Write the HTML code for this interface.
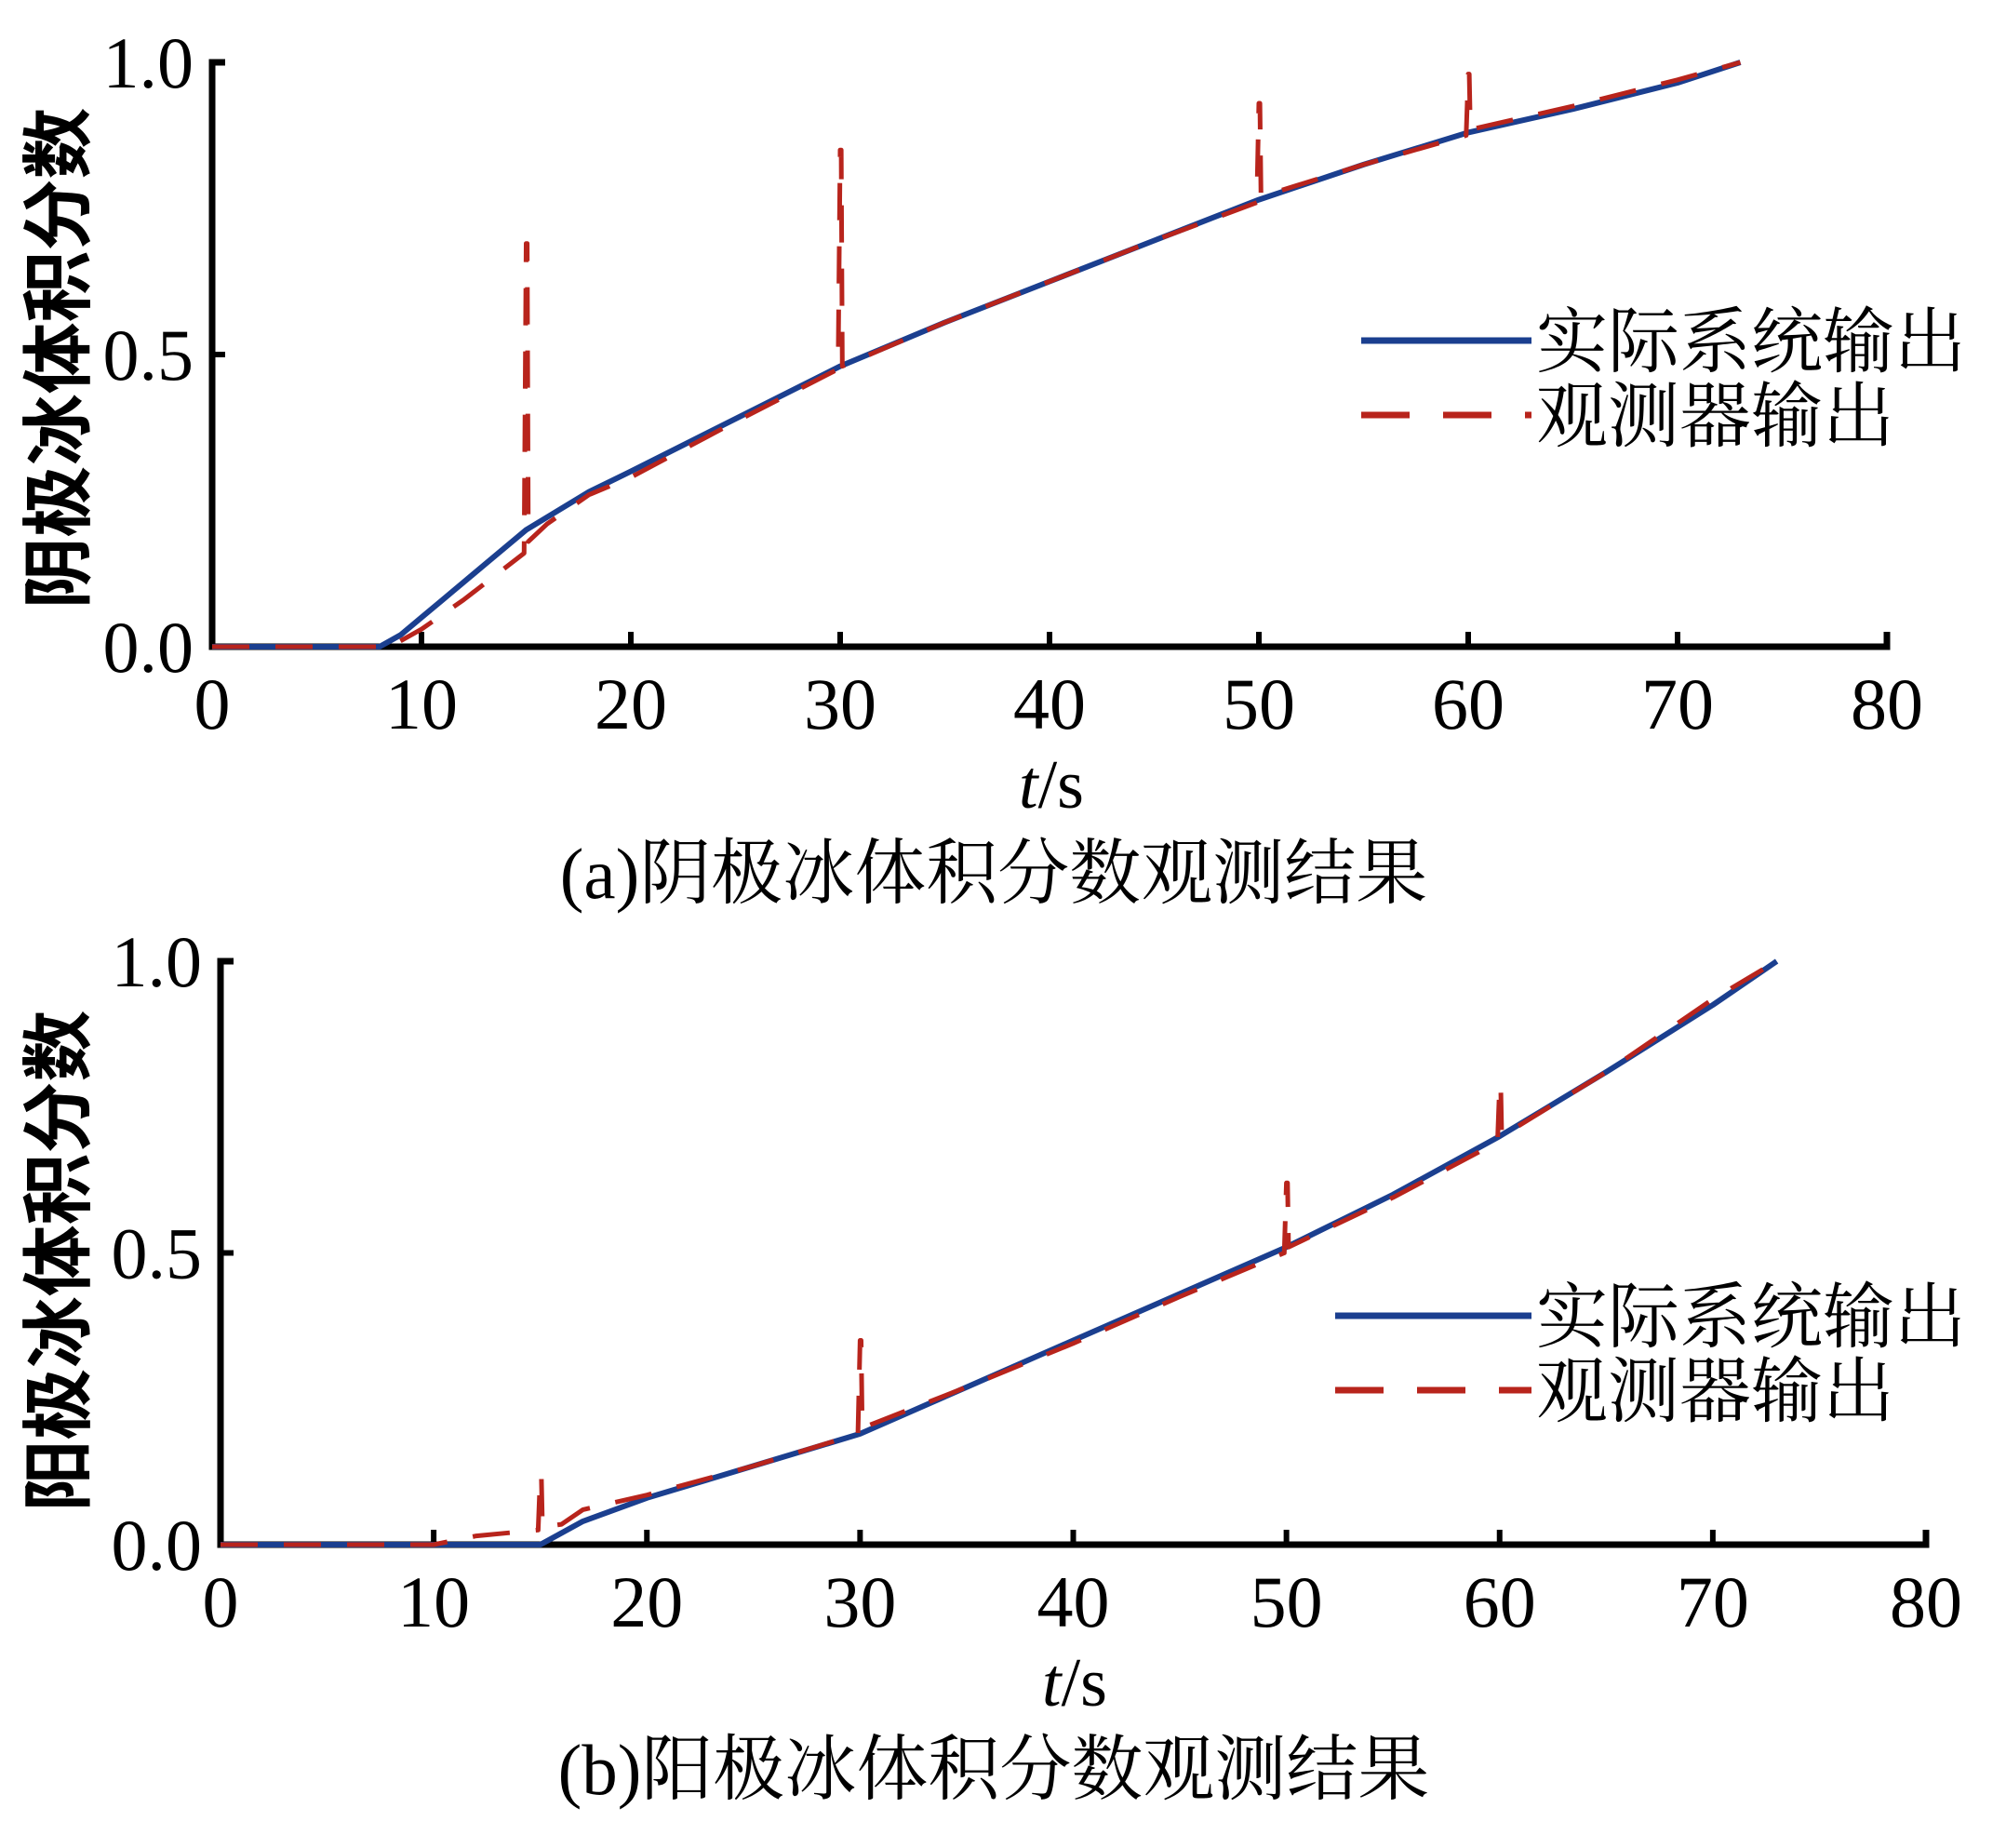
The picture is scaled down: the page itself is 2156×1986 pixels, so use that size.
<!DOCTYPE html>
<html><head><meta charset="utf-8"><style>
html,body{margin:0;padding:0;background:#fff;}
svg{display:block;}
text{font-family:"Liberation Serif","Noto Serif CJK SC","Noto Sans CJK SC",serif;fill:#000;}
</style></head><body>
<svg id="chart" width="2156" height="1986" viewBox="0 0 2156 1986" xmlns="http://www.w3.org/2000/svg"></svg>
<script>
const xTicks=[0,10,20,30,40,50,60,70,80];
const yTicks=[0,0.5,1];
const yTickLabels=["0.0","0.5","1.0"];
// Panel (a)
const aActualT=[0,8,9,10,11,12,13,15,18,20,25,30,35,40,45,50,55,60,65,70,73];
const aActualV=[0,0,0.02,0.05,0.08,0.11,0.14,0.2,0.265,0.3,0.39,0.48,0.555,0.625,0.695,0.765,0.825,0.88,0.92,0.965,1.0];
const aObsT=[0,8.5,10,12,14.9,15,15.05,15.1,16,18,20,25,29.9,30,30.05,30.1,35,40,45,49.9,50,50.05,50.1,55,59.9,60,60.05,60.1,65,70,73];
const aObsV=[0,0,0.03,0.08,0.16,0.69,0.69,0.18,0.21,0.26,0.29,0.385,0.475,0.85,0.85,0.48,0.555,0.625,0.695,0.76,0.93,0.93,0.77,0.825,0.875,0.98,0.98,0.885,0.925,0.97,1.0];
// Panel (b)
const bActualT=[0,15,17,20,25,30,35,40,45,50,55,60,65,70,73];
const bActualV=[0,0,0.04,0.08,0.135,0.19,0.27,0.35,0.43,0.51,0.6,0.7,0.81,0.925,1.0];
const bObsT=[0,10,12,14.9,15,15.05,15.1,16,17,20,25,29.9,30,30.05,30.1,35,40,45,49.9,50,50.05,50.1,55,59.9,60,60.05,60.1,65,70,73];
const bObsV=[0,0,0.015,0.025,0.12,0.12,0.03,0.035,0.06,0.085,0.135,0.19,0.35,0.35,0.2,0.27,0.345,0.425,0.5,0.62,0.62,0.51,0.595,0.69,0.79,0.79,0.7,0.81,0.935,1.0];

const NS="http://www.w3.org/2000/svg";
const svg=document.getElementById('chart');
function mk(tag,attrs,parent){const e=document.createElementNS(NS,tag);for(const k in attrs)e.setAttribute(k,attrs[k]);(parent||svg).appendChild(e);return e;}

function panel(p){
  const g=mk('g',{});
  
  
  const sx=t=>p.x0+(p.x1-p.x0)*t/80;
  const sy=v=>p.y0+(p.y1-p.y0)*v;
  const ax=mk('path',{d:`M${sx(0)+14},${sy(1)} L${sx(0)},${sy(1)} L${sx(0)},${sy(0)} L${sx(80)},${sy(0)} L${sx(80)},${sy(0)-16}`,fill:'none',stroke:'#000','stroke-width':7},g);
  
  
  xTicks.forEach(t=>{
    if(t>0&&t<80){const tk=mk('line',{x1:sx(t),x2:sx(t),y1:sy(0),y2:sy(0)-16,stroke:'#000','stroke-width':6},g);
    
    }
    const tl=mk('text',{x:sx(t),y:sy(0)+p.xlOff,'font-size':78,'text-anchor':'middle'},g);
    tl.textContent=String(t);
    
    
  });
  yTicks.forEach((v,i)=>{
    if(v>0&&v<1){const tk=mk('line',{x1:sx(0),x2:sx(0)+14,y1:sy(v),y2:sy(v),stroke:'#000','stroke-width':6},g);
    
    }
    const tl=mk('text',{x:sx(0)-20,y:sy(v)+27,'font-size':78,'text-anchor':'end'},g);
    tl.textContent=yTickLabels[i];
    
    
  });
  const yt=mk('text',{x:0,y:0,'font-size':77,'text-anchor':'middle',transform:`translate(90,${p.ytY}) rotate(-90)`,style:'font-family:"Noto Sans CJK SC",sans-serif;font-weight:bold'},g);
  yt.textContent=p.ylabel;
  
  
  const xt=mk('text',{x:p.tsX,y:p.tsY,'font-size':74,'text-anchor':'middle'},g);
  xt.innerHTML='<tspan font-style="italic">t</tspan>/s';
  
  
  const cap=mk('text',{x:1068,y:p.capY,'font-size':77,'text-anchor':'middle'},g);
  cap.textContent=p.caption;
  
  
  const pathOf=(T,V)=>T.map((t,i)=>(i?'L':'M')+sx(t).toFixed(1)+','+sy(V[i]).toFixed(1)).join(' ');
  const act=mk('path',{d:pathOf(p.aT,p.aV),fill:'none',stroke:'#1b3f8f','stroke-width':6,'stroke-linejoin':'round'},g);
  
  
  const obs=mk('path',{d:pathOf(p.oT,p.oV),fill:'none',stroke:'#b8241c','stroke-width':5,'stroke-dasharray':'40 28','stroke-linejoin':'round'},g);
  
  
  const lg=mk('g',{},g);
  
  
  const l1=mk('line',{x1:p.lx0,x2:1646,y1:p.ly,y2:p.ly,stroke:'#1b3f8f','stroke-width':7},lg);
  
  
  const t1=mk('text',{x:1651,y:p.ly+28,'font-size':77,style:'font-family:"Noto Serif CJK SC",serif'},lg);
  t1.textContent='实际系统输出';
  
  
  const l2=mk('line',{x1:p.lx0,x2:1646,y1:p.ly+80,y2:p.ly+80,stroke:'#b8241c','stroke-width':7,'stroke-dasharray':'52 36'},lg);
  
  
  const t2=mk('text',{x:1651,y:p.ly+108,'font-size':77,style:'font-family:"Noto Serif CJK SC",serif'},lg);
  t2.textContent='观测器输出';
  
  
}
panel({id:'a',x0:228,x1:2028,y0:695,y1:67,ylabel:'阴极冰体积分数',caption:'(a)阴极冰体积分数观测结果',aT:aActualT,aV:aActualV,oT:aObsT,oV:aObsV,lx0:1463,ly:366,xlOff:88,ytY:385,tsX:1130,tsY:868,capY:965});
panel({id:'b',x0:237,x1:2070,y0:1660,y1:1033,ylabel:'阳极冰体积分数',caption:'(b)阳极冰体积分数观测结果',aT:bActualT,aV:bActualV,oT:bObsT,oV:bObsV,lx0:1435,ly:1414,xlOff:88,ytY:1355,tsX:1155,tsY:1833,capY:1928});
</script>
</body></html>
